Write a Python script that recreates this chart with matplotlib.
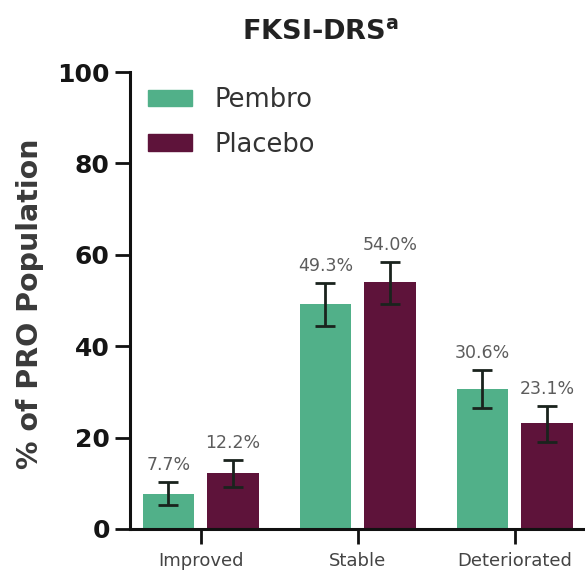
import matplotlib
matplotlib.use("Agg")
import matplotlib.pyplot as plt
import matplotlib.patches as mpatches
import numpy as np

plt.rcParams['font.family'] = ['DejaVu Sans']

categories = ["Improved", "Stable", "Deteriorated"]
series_names = ["Pembro", "Placebo"]
pembro = [7.7, 49.3, 30.6]
placebo = [12.2, 54.0, 23.1]
pembro_ci_low = [5.3, 44.5, 26.5]
pembro_ci_high = [10.3, 53.8, 34.8]
placebo_ci_low = [9.1, 49.3, 19.1]
placebo_ci_high = [15.1, 58.4, 26.9]
yticks = [0, 20, 40, 60, 80, 100]

green = "#51B089"
maroon = "#5E133A"
err_color = "#1a231d"

W, H = 585, 576
fig = plt.figure(figsize=(W / 100, H / 100), dpi=100)
ax = fig.add_axes([130 / W, 1 - 529 / H, 1 - 130 / W, (529 - 72) / H])

x = np.arange(len(categories))
bw = 0.33
off = 0.205

series = [
    (pembro, pembro_ci_low, pembro_ci_high, green, -off),
    (placebo, placebo_ci_low, placebo_ci_high, maroon, off),
]
for (vals, lo, hi, col, o), name in zip(series, series_names):
    vals = np.array(vals)
    lo = np.array(lo)
    hi = np.array(hi)
    ax.bar(x + o, vals, width=bw, color=col, label=name, zorder=2)
    yerr = np.vstack([vals - lo, hi - vals])
    ax.errorbar(x + o, vals, yerr=yerr, fmt='none', ecolor=err_color,
                elinewidth=2.0, capsize=7.5, capthick=2.0, zorder=3)
    for xi, h, v in zip(x + o, hi, vals):
        ax.annotate(f"{v:.1f}%", xy=(xi, h), xytext=(0, 12.5),
                    textcoords='offset points', ha='center', va='center',
                    fontsize=12.5, color='#5c5c5c')

ax.set_xlim(-0.45, 2.448)
ax.set_ylim(0, 100)
ax.set_yticks(yticks)
ax.set_yticklabels([str(t) for t in yticks], fontsize=18, fontweight='bold',
                   color='#151515')
ax.set_xticks(x)
ax.set_xticklabels(categories, fontsize=13, color='#444444')

for s in ['top', 'right']:
    ax.spines[s].set_visible(False)
for s in ['left', 'bottom']:
    ax.spines[s].set_linewidth(2.2)
    ax.spines[s].set_color('#111111')
ax.tick_params(axis='y', length=11, width=2.0, pad=3.5, color='#111111')
ax.tick_params(axis='x', length=11, width=2.0, pad=5.5, color='#111111')

ax.set_ylabel("% of PRO Population", fontsize=20.5, fontweight='bold', color='#3a3a3a')
ax.yaxis.set_label_coords(-0.19, 0.493)

handles = [mpatches.Patch(color=green), mpatches.Patch(color=maroon)]
leg = ax.legend(handles, series_names, loc='upper left',
                bbox_to_anchor=(148 / W, 1 - 87 / H), bbox_transform=fig.transFigure,
                frameon=False, fontsize=18.5, borderpad=0, borderaxespad=0,
                handlelength=1.72, handleheight=0.6, handletextpad=0.85,
                labelspacing=0.72)
for t in leg.get_texts():
    t.set_color('#333333')

fig.text(321 / W, 1 - 32 / H, "FKSI-DRS$^{\\mathregular{a}}$", ha='center', va='center',
         fontsize=19.5, fontweight='bold', color='#222222')

fig.savefig("out.png", dpi=100)
